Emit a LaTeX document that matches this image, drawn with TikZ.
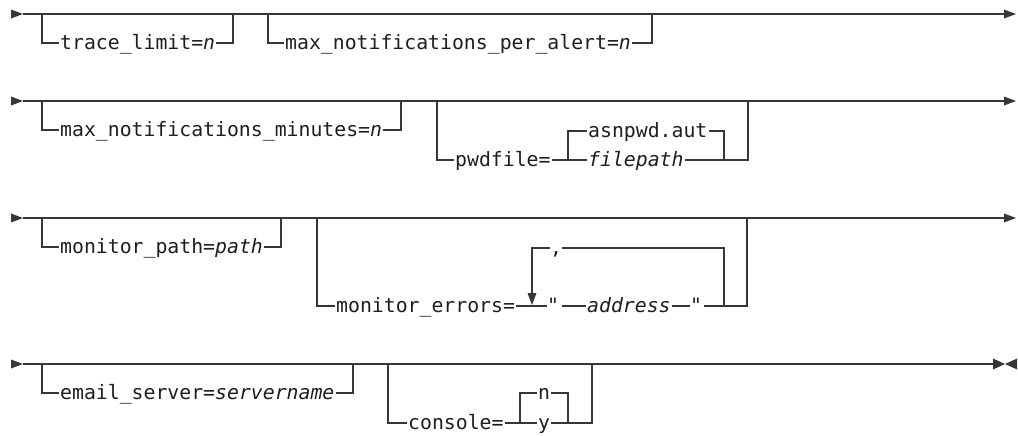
\documentclass[tikz,border=0pt]{standalone}
\usepackage{fontspec}
\setmonofont{DejaVu Sans Mono}
\newcommand\railfont{\ttfamily\fontsize{19.8}{22}\selectfont}
\definecolor{linecol}{RGB}{55,55,55}
\definecolor{txtcol}{RGB}{30,30,30}
\tikzset{
  rail/.style={draw=linecol, line width=1.4pt},
  kw/.style={anchor=base west, inner xsep=1pt, inner ysep=0pt, font=\railfont, text=txtcol},
  tipfill/.style={fill=linecol, draw=none}
}
\begin{document}
\begin{tikzpicture}[x=1pt,y=-1pt]
\useasboundingbox (0,0) rectangle (1018,436);
% text baseline lies 6.7 below its rail line
% ---------- Row 1 ----------
\coordinate (a1) at (23,14); \coordinate (b1) at (1004,14);
\fill[tipfill] (11,9.5) -- (a1) -- (11,18.5) -- cycle;
\draw[rail] (a1) -- (b1);
\fill[tipfill] (1004,9.5) -- (1016,14) -- (1004,18.5) -- cycle;
\node[kw] (t1) at (59,49.7) {trace\_limit=\textit{n}};
\draw[rail] (42,14) |- ([yshift=6.7pt]t1.base west);
\draw[rail] ([yshift=6.7pt]t1.base east) -| (233,14);
\node[kw] (t2) at (284,49.7) {max\_notifications\_per\_alert=\textit{n}};
\draw[rail] (268,14) |- ([yshift=6.7pt]t2.base west);
\draw[rail] ([yshift=6.7pt]t2.base east) -| (652,14);
% ---------- Row 2 ----------
\coordinate (a2) at (23,101); \coordinate (b2) at (1004,101);
\fill[tipfill] (11,96.5) -- (a2) -- (11,105.5) -- cycle;
\draw[rail] (a2) -- (b2);
\fill[tipfill] (1004,96.5) -- (1016,101) -- (1004,105.5) -- cycle;
\node[kw] (t3) at (59,136.7) {max\_notifications\_minutes=\textit{n}};
\draw[rail] (42,101) |- ([yshift=6.7pt]t3.base west);
\draw[rail] ([yshift=6.7pt]t3.base east) -| (401,101);
\node[kw] (t4) at (454,166.7) {pwdfile=};
\node[kw] (t5) at (587,137.7) {asnpwd.aut};
\node[kw] (t6) at (587,166.7) {\textit{filepath}};
\draw[rail] (437,101) |- ([yshift=6.7pt]t4.base west);
\draw[rail] ([yshift=6.7pt]t4.base east) -- ([yshift=6.7pt]t6.base west);
\draw[rail] (568,160) |- ([yshift=6.7pt]t5.base west);
\draw[rail] ([yshift=6.7pt]t5.base east) -| (724,160);
\draw[rail] ([yshift=6.7pt]t6.base east) -| (748,101);
% ---------- Row 3 ----------
\coordinate (a3) at (23,218); \coordinate (b3) at (1004,218);
\fill[tipfill] (11,213.5) -- (a3) -- (11,222.5) -- cycle;
\draw[rail] (a3) -- (b3);
\fill[tipfill] (1004,213.5) -- (1016,218) -- (1004,222.5) -- cycle;
\node[kw] (t7) at (59,253.7) {monitor\_path=\textit{path}};
\draw[rail] (42,218) |- ([yshift=6.7pt]t7.base west);
\draw[rail] ([yshift=6.7pt]t7.base east) -| (281,218);
\node[kw] (t8) at (335,312.7) {monitor\_errors=};
\node[kw, inner xsep=0pt] (q1) at (547,312.7) {\textit{"}};
\node[kw] (t9) at (586,312.7) {\textit{address}};
\node[kw, inner xsep=0pt] (q2) at (690,312.7) {\textit{"}};
\node[kw, inner xsep=0pt] (c1) at (550,254.7) {,};
\draw[rail] (317,218) |- ([yshift=6.7pt]t8.base west);
\draw[rail] ([yshift=6.7pt]t8.base east) -- ([yshift=6.7pt]q1.base west);
\draw[rail] ([shift={(3pt,6.7pt)}]q1.base east) -- ([yshift=6.7pt]t9.base west);
\draw[rail] ([yshift=6.7pt]t9.base east) -- ([yshift=6.7pt]q2.base west);
\draw[rail] ([shift={(2pt,6.7pt)}]q2.base east) -| (747,218);
\draw[rail] ([yshift=6.7pt]c1.base west) -| (532,294);
\fill[tipfill] (527.5,293) -- (536.5,293) -- (532,305) -- cycle;
\draw[rail] ([yshift=6.7pt]c1.base east) -| (724,306);
% ---------- Row 4 ----------
\coordinate (a4) at (23,364); \coordinate (b4) at (993,364);
\fill[tipfill] (11,359.5) -- (a4) -- (11,368.5) -- cycle;
\draw[rail] (a4) -- (b4);
\draw[draw=linecol, line width=2.6pt] (598,364) -- (622,364);
\fill[tipfill] (993,358.5) -- (1005,364) -- (993,369.5) -- cycle;
\fill[tipfill] (1017,358.5) -- (1005,364) -- (1017,369.5) -- cycle;
\node[kw] (t10) at (59,399.7) {email\_server=\textit{servername}};
\draw[rail] (42,364) |- ([yshift=6.7pt]t10.base west);
\draw[rail] ([yshift=6.7pt]t10.base east) -| (353,364);
\node[kw] (t11) at (407,429.7) {console=};
\node[kw] (nn) at (537,399.7) {n};
\node[kw] (yy) at (537,429.7) {y};
\draw[rail] (388,364) |- ([yshift=6.7pt]t11.base west);
\draw[rail] ([yshift=6.7pt]t11.base east) -- ([yshift=6.7pt]yy.base west);
\draw[rail] (520,423) |- ([yshift=6.7pt]nn.base west);
\draw[rail] ([yshift=6.7pt]nn.base east) -| (568,423);
\draw[rail] ([yshift=6.7pt]yy.base east) -| (592,364);
\end{tikzpicture}
\end{document}
